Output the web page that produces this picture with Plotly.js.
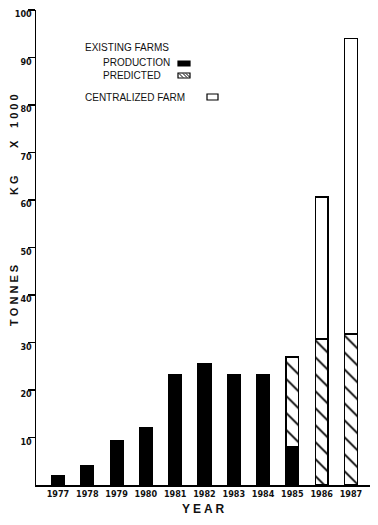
<!DOCTYPE html>
<html>
<head>
<meta charset="utf-8">
<script src="https://cdn.plot.ly/plotly-3.0.1.min.js"></script>
<style>html,body{margin:0;padding:0;background:#fff;}#chart{width:378px;height:525px;}</style>
</head>
<body>
<div id="chart"></div>
<script>
// Data
var years = ['1977','1978','1979','1980','1981','1982','1983','1984','1985','1986','1987'];
var production = [2, 4, 9.3, 12, 23.2, 25.5, 23.2, 23.2, 8, null, null];
var predicted = [null, null, null, null, null, null, null, null, 19, 30.7, 31.8];
var centralized = [null, null, null, null, null, null, null, null, null, 29.9, 62.2];
var yTicks = [10, 20, 30, 40, 50, 60, 70, 80, 90, 100];

var NARROW = '"Liberation Sans Narrow", "DejaVu Sans Condensed", "Liberation Sans", Arial, sans-serif';
var WIDE = '"Liberation Sans", Arial, sans-serif';
var LEG = '"Liberation Sans", Arial, sans-serif';
var W = 378, H = 525, L = 36, R = 8, T = 10, B = 40;
var pw = W - L - R, ph = H - T - B;
function px(x) { return (x - L) / pw; }
function py(y) { return (H - B - y) / ph; }

var outline = {color: '#000', width: 1.5};
var traces = [
  {type: 'bar', x: years, y: production, name: 'PRODUCTION',
   marker: {color: '#000', line: outline}},
  {type: 'bar', x: years, y: predicted, name: 'PREDICTED',
   marker: {color: '#fff', line: outline,
            pattern: {shape: '\\', fgcolor: '#000', bgcolor: '#fff', size: 12, solidity: 0.15}}},
  {type: 'bar', x: years, y: centralized, name: 'CENTRALIZED FARM',
   marker: {color: '#fff', line: outline}}
];

function ann(text, x, y, opts) {
  var a = {text: text, xref: 'paper', yref: 'paper', x: px(x), y: py(y),
           xanchor: 'left', yanchor: 'middle', showarrow: false,
           font: {family: LEG, size: 10, color: '#111'}};
  for (var k in opts) a[k] = opts[k];
  return a;
}
var titleFont = {family: WIDE, size: 11, color: '#111', weight: 'bold'};

var annotations = [
  ann('EXISTING FARMS', 83, 48),
  ann('PRODUCTION', 101, 63),
  ann('PREDICTED', 101, 76),
  ann('CENTRALIZED FARM', 83, 98),
  ann('T O N N E S', 14, 295, {xanchor: 'center', textangle: -90, font: titleFont}),
  ann('K G', 14, 185, {xanchor: 'center', textangle: -90, font: titleFont}),
  ann('X', 14, 144, {xanchor: 'center', textangle: -90, font: titleFont}),
  ann('1 0 0 0', 14, 111, {xanchor: 'center', textangle: -90, font: titleFont})
];

function rect(x0, y0, x1, y1, fill) {
  return {type: 'rect', xref: 'paper', yref: 'paper', x0: px(x0), x1: px(x1), y0: py(y1), y1: py(y0),
          fillcolor: fill, line: {color: '#000', width: 1.2}};
}
function seg(x0, y0, x1, y1) {
  return {type: 'line', xref: 'paper', yref: 'paper', x0: px(x0), x1: px(x1), y0: py(y0), y1: py(y1),
          line: {color: '#000', width: 1}};
}
var shapes = [
  rect(178, 61, 190, 66, '#000'),
  rect(178, 73, 190, 78, '#fff'),
  seg(179, 73.5, 183, 77.5), seg(183, 73.5, 187, 77.5), seg(186, 73.5, 189.5, 77),
  rect(207, 94, 218, 100, '#fff')
];

var layout = {
  width: W, height: H,
  margin: {l: L, r: R, t: T, b: B, pad: 0},
  paper_bgcolor: '#fff', plot_bgcolor: '#fff',
  barmode: 'stack', bargap: 0.57,
  showlegend: false,
  font: {family: NARROW, color: '#111'},
  xaxis: {
    type: 'category', range: [-0.75, 10.65],
    showline: true, linecolor: '#000', linewidth: 1.5,
    ticks: '', showgrid: false, zeroline: false,
    tickfont: {family: NARROW, size: 9, color: '#111', weight: 'bold'},
    title: {text: 'Y E A R', font: {family: WIDE, size: 12, color: '#111', weight: 'bold'}, standoff: 6}
  },
  yaxis: {
    range: [0, 100], tickvals: yTicks, ticktext: yTicks.map(String),
    showline: true, linecolor: '#000', linewidth: 1.5,
    ticks: 'outside', ticklen: 7, tickwidth: 1.2, tickcolor: '#000',
    ticklabelshift: 4, ticklabelstandoff: -6,
    showgrid: false, zeroline: false,
    tickfont: {family: NARROW, size: 9, color: '#111', weight: 'bold'}
  },
  annotations: annotations,
  shapes: shapes
};

Plotly.newPlot('chart', traces, layout, {displayModeBar: false, staticPlot: true});
</script>
</body>
</html>
